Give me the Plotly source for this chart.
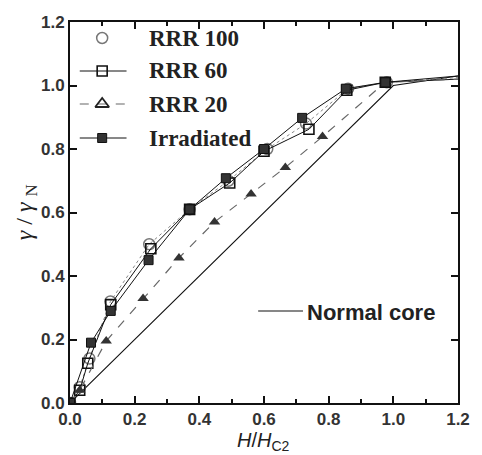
import plotly.graph_objects as go

# ---------------- data ----------------
rrr100_x = [0.0, 0.03, 0.06, 0.125, 0.245, 0.37, 0.49, 0.61, 0.73, 0.86, 0.98, 1.2]
rrr100_y = [0.0, 0.05, 0.14, 0.32, 0.50, 0.61, 0.70, 0.80, 0.88, 0.99, 1.01, 1.025]

rrr60_x = [0.0, 0.03, 0.055, 0.126, 0.25, 0.37, 0.494, 0.60, 0.739, 0.856, 0.975, 1.2]
rrr60_y = [0.0, 0.04, 0.125, 0.31, 0.486, 0.61, 0.693, 0.793, 0.862, 0.985, 1.01, 1.02]

rrr20_x = [0.0, 0.03, 0.112, 0.226, 0.337, 0.447, 0.56, 0.666, 0.781, 0.975, 1.2]
rrr20_y = [0.0, 0.04, 0.195, 0.329, 0.457, 0.57, 0.658, 0.742, 0.839, 1.01, 1.02]

irr_x = [0.0, 0.065, 0.126, 0.243, 0.37, 0.482, 0.60, 0.718, 0.853, 0.975, 1.2]
irr_y = [0.0, 0.19, 0.29, 0.45, 0.61, 0.708, 0.80, 0.898, 0.99, 1.01, 1.03]

normal_x = [0.0, 1.0, 1.2]
normal_y = [0.0, 1.0, 1.03]

x_ticks = [0.0, 0.2, 0.4, 0.6, 0.8, 1.0, 1.2]
y_ticks = [0.0, 0.2, 0.4, 0.6, 0.8, 1.0, 1.2]
tick_text = ["0.0", "0.2", "0.4", "0.6", "0.8", "1.0", "1.2"]

series_names = ["RRR 100", "RRR 60", "RRR 20", "Irradiated"]

# ---------------- styles ----------------
styles = {
    "RRR 100": dict(line=dict(color="#888", width=1, dash="dot"),
                    marker=dict(symbol="circle-open", size=11, color="#777",
                                line=dict(width=1.5, color="#888"))),
    "RRR 60": dict(line=dict(color="#111", width=1),
                   marker=dict(symbol="square-open", size=10, color="#111",
                               line=dict(width=1.6, color="#111"))),
    "RRR 20": dict(line=dict(color="#666", width=1.2, dash="dash"),
                   marker=dict(symbol="triangle-up", size=10, color="#333",
                               line=dict(width=0))),
    "Irradiated": dict(line=dict(color="#111", width=1),
                       marker=dict(symbol="square", size=9, color="#333",
                                   line=dict(width=1, color="#111"))),
}
legend_markers = dict(styles_override=None)
legend_marker_style = {
    "RRR 20": dict(symbol="triangle-up-open", size=12, color="#222",
                   line=dict(width=1.8, color="#222")),
}

fig = go.Figure()

fig.add_trace(go.Scatter(x=normal_x, y=normal_y, mode="lines",
                         line=dict(color="#111", width=1.1), showlegend=False))

data = {
    "RRR 100": (rrr100_x, rrr100_y),
    "RRR 60": (rrr60_x, rrr60_y),
    "RRR 20": (rrr20_x, rrr20_y),
    "Irradiated": (irr_x, irr_y),
}
for name in series_names:
    xs, ys = data[name]
    st = styles[name]
    fig.add_trace(go.Scatter(x=xs, y=ys, mode="lines", line=st["line"],
                             showlegend=False, hoverinfo="skip"))
    fig.add_trace(go.Scatter(x=xs[:-1], y=ys[:-1], mode="markers",
                             marker=st["marker"], showlegend=False, name=name))

# ---------------- custom legend (overlay axes in paper fraction) ----------------
L, R, T, B = 70, 468, 22, 403
W, H = R - L, B - T
def px_x(p):
    return (p - L) / W
def px_y(p):
    return (B - p) / H

row_y = [38, 71, 104, 138]
for i, name in enumerate(series_names):
    st = styles[name]
    yy = px_y(row_y[i])
    if name != "RRR 100":
        fig.add_trace(go.Scatter(x=[px_x(80), px_x(128)], y=[yy, yy], mode="lines",
                                 line=st["line"], xaxis="x2", yaxis="y2",
                                 showlegend=False, hoverinfo="skip"))
    fig.add_trace(go.Scatter(x=[px_x(103)], y=[yy], mode="markers",
                             marker=legend_marker_style.get(name, st["marker"]),
                             xaxis="x2", yaxis="y2",
                             showlegend=False, hoverinfo="skip"))
    fig.add_annotation(x=px_x(149), y=yy, xref="paper", yref="paper",
                       text="<b>" + name + "</b>", showarrow=False,
                       xanchor="left", yanchor="middle",
                       font=dict(family="Liberation Serif", size=23, color="#222"))

# Normal core label
fig.add_trace(go.Scatter(x=[px_x(263), px_x(309)], y=[px_y(311), px_y(311)],
                         mode="lines", line=dict(color="#111", width=1.1),
                         xaxis="x2", yaxis="y2", showlegend=False, hoverinfo="skip"))
fig.add_annotation(x=px_x(311), y=px_y(312), xref="paper", yref="paper",
                   text="<b>Normal core</b>", showarrow=False,
                   xanchor="left", yanchor="middle",
                   font=dict(family="Liberation Sans", size=22, color="#222"))

# axis titles
fig.add_annotation(x=px_x(25), y=px_y(212), xref="paper", yref="paper",
                   text="<i>γ</i> / <i>γ</i> <sub>N</sub>", showarrow=False,
                   textangle=-90, xanchor="center", yanchor="middle",
                   font=dict(family="Liberation Serif", size=24, color="#222"))
fig.add_annotation(x=px_x(268), y=px_y(441), xref="paper", yref="paper",
                   text="<i>H</i>/<i>H</i><sub>C2</sub>", showarrow=False,
                   xanchor="center", yanchor="middle",
                   font=dict(family="Liberation Sans", size=20, color="#222"))

axis_common = dict(
    showgrid=False, zeroline=False, showline=True, linecolor="#111", linewidth=2,
    mirror="ticks", ticks="inside", ticklen=7, tickwidth=1.5, tickcolor="#111",
    tickfont=dict(family="Liberation Sans", size=17, color="#333", weight="bold"),
)

fig.update_layout(
    width=482, height=455,
    margin=dict(l=L, r=482 - R, t=T, b=455 - B),
    paper_bgcolor="white", plot_bgcolor="white",
    showlegend=False,
    xaxis=dict(range=[0, 1.2], tickvals=x_ticks, ticktext=tick_text,
               minor=dict(ticks="inside", ticklen=4, dtick=0.1, tickcolor="#111"),
               **axis_common),
    yaxis=dict(range=[0, 1.2], tickvals=y_ticks, ticktext=tick_text, **axis_common),
    xaxis2=dict(overlaying="x", range=[0, 1], visible=False),
    yaxis2=dict(overlaying="y", range=[0, 1], visible=False),
)

fig.write_html("out.html")
